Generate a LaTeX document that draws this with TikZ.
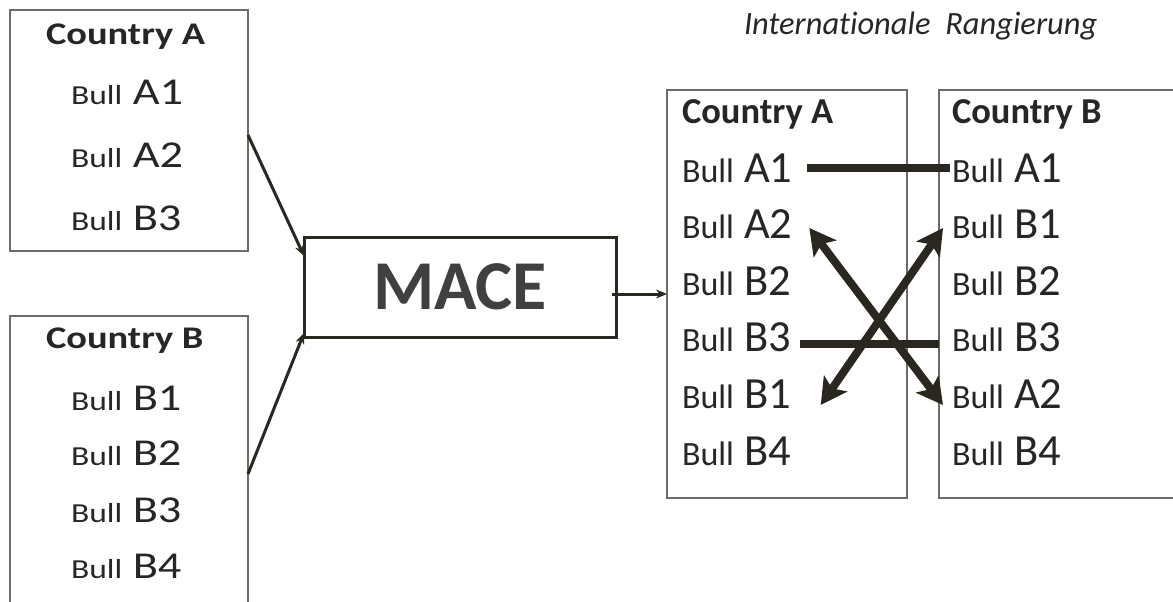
\documentclass[tikz,border=0pt]{standalone}
\usepackage{fontspec}
\setmainfont{Carlito}[Ligatures=NoCommon]
\newfontfamily\lfont{Carlito}[FakeStretch=1.22,Ligatures=NoCommon]
\usetikzlibrary{arrows.meta}
\definecolor{ink}{HTML}{2A2620}
\definecolor{boxgray}{HTML}{6E6A66}
\definecolor{macegray}{HTML}{404040}
\definecolor{txt}{HTML}{262626}
\newcommand\lrow[1]{\lfont\fontsize{27.5}{30}\selectfont Bull\fontsize{38}{42}\selectfont\ #1}
\newcommand\rrow[1]{\fontsize{34}{40}\selectfont Bull\fontsize{44.5}{50}\selectfont\ #1}
\tikzset{
  lbl/.style={anchor=base west, inner sep=0pt, outer sep=0pt, text=txt},
  ltitle/.style={lbl, font=\lfont\bfseries\fontsize{31.5}{36}\selectfont},
  rtitle/.style={lbl, font=\bfseries\fontsize{36.5}{42}\selectfont},
  box/.style={draw=boxgray, line width=1.8pt, inner sep=0pt, outer sep=0pt},
  thinarrow/.style={draw=ink, line width=3pt, -{Stealth[length=11pt,width=9pt]}},
  heavy/.style={draw=ink, line width=8pt},
  dblarrow/.style={heavy, {Stealth[length=26pt,width=28pt,inset=6pt]}-{Stealth[length=26pt,width=28pt,inset=6pt]}}
}
\begin{document}
\begin{tikzpicture}[x=1pt,y=-1pt]
\useasboundingbox (0,0) rectangle (1173,602);
\clip (0,0) rectangle (1173,602);
% boxes
\node[box, minimum width=238pt, minimum height=241pt] (lAbox) at (129,130.5) {};
\node[box, minimum width=238pt, minimum height=310pt] (lBbox) at (129,471) {};
\node[draw=ink, line width=3pt, inner sep=0pt, outer sep=0pt, minimum width=312pt, minimum height=100pt,
      font=\bfseries\fontsize{70}{80}\selectfont, text=macegray] (mace) at (460,287) {MACE};
\node[box, minimum width=240pt, minimum height=408pt] (rAbox) at (787,294) {};
\node[box, minimum width=260pt, minimum height=408pt] (rBbox) at (1069,294) {};
% title
\node[lbl, font=\itshape\fontsize{32.5}{38}\selectfont] (title) at (744,35) {Internationale\ \ Rangierung};
% left box A
\node[ltitle] (lAt) at (46,45) {Country A};
\node[lbl] (lA1) at (71,104) {\lrow{A1}};
\node[lbl] (lA2) at (71,167) {\lrow{A2}};
\node[lbl] (lA3) at (71,230) {\lrow{B3}};
% left box B
\node[ltitle] (lBt) at (46,348) {Country B};
\node[lbl] (lB1) at (71,410) {\lrow{B1}};
\node[lbl] (lB2) at (71,465) {\lrow{B2}};
\node[lbl] (lB3) at (71,522) {\lrow{B3}};
\node[lbl] (lB4) at (71,578) {\lrow{B4}};
% right box A
\node[rtitle] (rAt) at (682,123) {Country A};
\node[lbl] (rA1) at (682,182) {\rrow{A1}};
\node[lbl] (rA2) at (682,238) {\rrow{A2}};
\node[lbl] (rA3) at (682,295) {\rrow{B2}};
\node[lbl] (rA4) at (682,351) {\rrow{B3}};
\node[lbl] (rA5) at (682,408) {\rrow{B1}};
\node[lbl] (rA6) at (682,465) {\rrow{B4}};
% right box B
\node[rtitle] (rBt) at (952,123) {Country B};
\node[lbl] (rB1) at (952,182) {\rrow{A1}};
\node[lbl] (rB2) at (952,238) {\rrow{B1}};
\node[lbl] (rB3) at (952,295) {\rrow{B2}};
\node[lbl] (rB4) at (952,351) {\rrow{B3}};
\node[lbl] (rB5) at (952,408) {\rrow{A2}};
\node[lbl] (rB6) at (952,465) {\rrow{B4}};
% thin arrows
\draw[thinarrow] ([yshift=-4.5pt]lAbox.east) -- ([yshift=-19pt]mace.north west);
\draw[thinarrow] ([yshift=-3pt]lBbox.east) -- ([yshift=4pt]mace.south west);
\draw[thinarrow] ([xshift=-4pt]mace.east |- rAbox.west) -- (rAbox.west);
% thick connectors
\draw[heavy] ([xshift=15pt,yshift=14pt]rA1.base east) -- ([xshift=-2pt,yshift=14pt]rB1.base west);
\draw[heavy] ([xshift=9pt,yshift=7pt]rA4.base east) -- ([xshift=-13pt,yshift=7pt]rB4.base west);
\draw[dblarrow] ([xshift=17pt,yshift=10pt]rA2.base east) -- ([xshift=-9pt,yshift=3pt]rB5.base west);
\draw[dblarrow] ([xshift=30pt,yshift=3pt]rA5.base east) -- ([xshift=-9pt,yshift=10pt]rB2.base west);
\end{tikzpicture}
\end{document}
